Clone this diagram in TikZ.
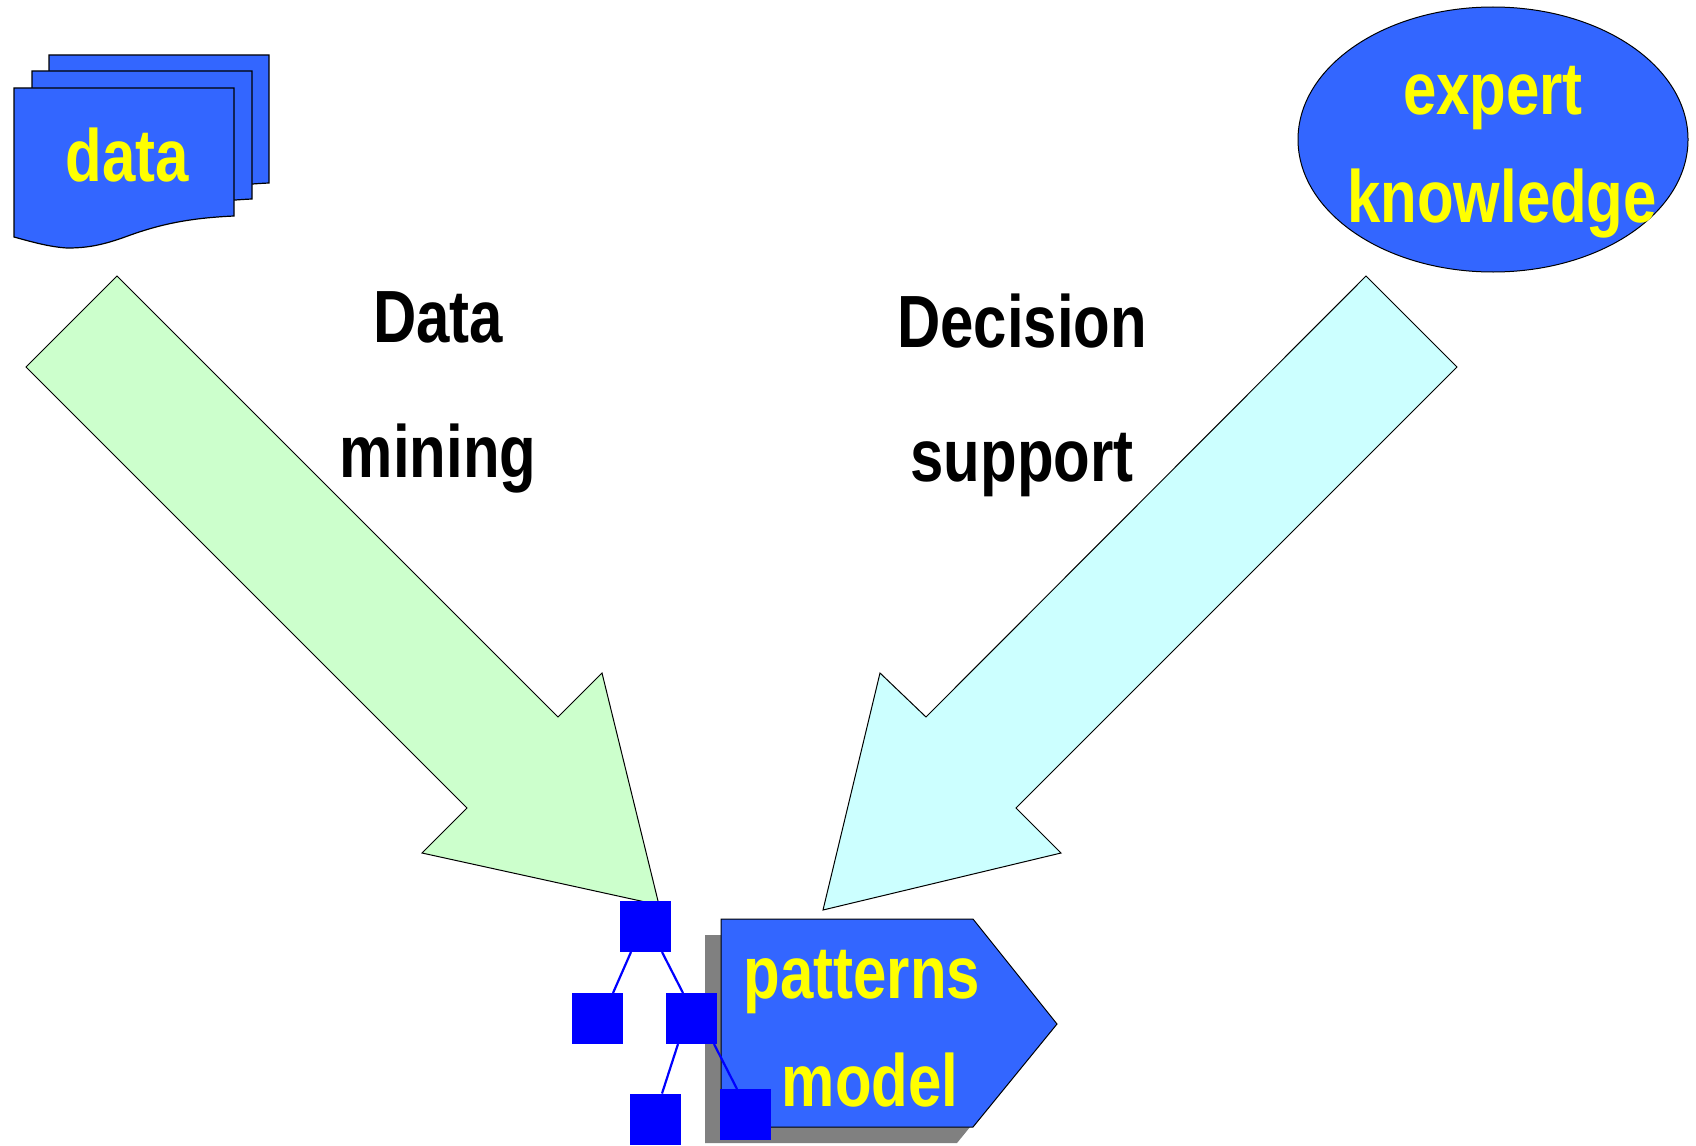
\documentclass[tikz,border=0pt]{standalone}
\usepackage{fontspec}
\setmainfont{Liberation Sans}
\newfontfamily\labelfont[FakeStretch=0.81]{Liberation Sans Bold}
\usetikzlibrary{shapes.geometric}
\definecolor{shapeblue}{HTML}{3366FF}
\definecolor{arrowgreen}{HTML}{CCFFCC}
\definecolor{arrowcyan}{HTML}{CCFFFF}
\definecolor{shadowgray}{HTML}{808080}
\definecolor{treeblue}{HTML}{0000FF}
\definecolor{textyellow}{HTML}{FFFF00}
\tikzset{
  outline/.style={draw=black,line width=1pt,line join=miter},
  docsheet/.style={outline,fill=shapeblue,line width=1.2pt},
  biglabel/.style={font=\labelfont\fontsize{74}{80}\selectfont,anchor=base,inner sep=0pt},
  yellowlabel/.style={biglabel,text=textyellow},
  blacklabel/.style={biglabel,text=black},
  treenode/.style={fill=treeblue,minimum size=51pt,inner sep=0pt,outer sep=0pt,draw=none},
  treeedge/.style={draw=treeblue,line width=2.2pt},
  sheet/.pic={
    \path[docsheet] (14,88) -- (234,88) -- (234,216)
      .. controls (190,218) and (160,224) .. (125,237)
      .. controls (100,246) and (85,248) .. (67,248)
      .. controls (50,247) and (32,242) .. (14,237) -- cycle;
  }
}
\begin{document}
\begin{tikzpicture}[x=1pt,y=-1pt]
\useasboundingbox (0,0) rectangle (1696,1145);
% stacked document
\pic at (35,-33) {sheet};
\pic at (18,-17) {sheet};
\pic at (0,0) {sheet};
\node[yellowlabel] (dataLabel) at (127,181) {data};
% expert knowledge ellipse
\node[ellipse,outline,fill=shapeblue,minimum width=390pt,minimum height=265pt,inner sep=0pt] (expert) at (1493,139.5) {};
\node[yellowlabel] (expertLabel) at (1493,114) {expert};
\node[yellowlabel] (knowledgeLabel) at (1502,222) {knowledge};
% big arrows
\path[outline,fill=arrowgreen] (117,276) -- (558,717) -- (602,673) -- (659,905) -- (422,853) -- (467,808) -- (26,367) -- cycle;
\path[outline,fill=arrowcyan] (1366,276) -- (926,717) -- (880,673) -- (823,910) -- (1061,853) -- (1016,808) -- (1457,367) -- cycle;
% captions
\node[blacklabel] (dataCap) at (438,342) {Data};
\node[blacklabel] (miningCap) at (438,477) {mining};
\node[blacklabel] (decisionCap) at (1022,347) {Decision};
\node[blacklabel] (supportCap) at (1022,481) {support};
% patterns model shape with shadow
\fill[shadowgray] (705,935) -- (957,935) -- (1041,1040) -- (957,1143) -- (705,1143) -- cycle;
\path[outline,fill=shapeblue] (721,919) -- (973,919) -- (1057,1024) -- (973,1127) -- (721,1127) -- cycle;
\node[yellowlabel] (patternsLabel) at (862,998) {patterns};
\node[yellowlabel] (modelLabel) at (870,1106) {model};
% tree
\node[treenode] (root) at (645.5,926.5) {};
\node[treenode] (left) at (597.5,1018.5) {};
\node[treenode] (mid) at (691.5,1018.5) {};
\node[treenode] (lowleft) at (655.5,1119) {};
\node[treenode] (lowright) at (745.5,1114.5) {};
\draw[treeedge] ([xshift=-14.5pt]root.south) -- ([xshift=15.5pt]left.north);
\draw[treeedge] ([xshift=16.5pt]root.south) -- ([xshift=-8.5pt]mid.north);
\draw[treeedge] ([xshift=-13.5pt]mid.south) -- ([xshift=6.5pt]lowleft.north);
\draw[treeedge] ([xshift=22.5pt]mid.south) -- ([xshift=-8.5pt]lowright.north);
\end{tikzpicture}
\end{document}
